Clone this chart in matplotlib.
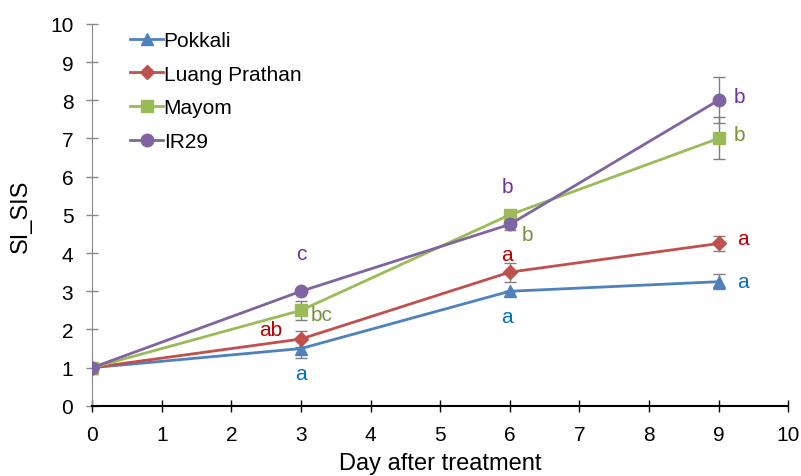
import matplotlib.pyplot as plt

plt.rcParams["font.family"] = ["Liberation Sans", "DejaVu Sans"]

days = [0, 3, 6, 9]
pokkali = [1, 1.5, 3, 3.25]
pokkali_err = [0, 0.25, 0, 0.2]
luang = [1, 1.75, 3.5, 4.25]
luang_err = [0, 0.2, 0.25, 0.2]
mayom = [1, 2.5, 5, 7]
mayom_err = [0, 0.25, 0, 0.55]
ir29 = [1, 3, 4.75, 8]
ir29_err = [0, 0, 0.15, 0.6]

# significance letters: (x, y, text, colour)
letters = [
    (3, 3.98, "c", "#7030A0"), (3.3, 2.38, "bc", "#77933C"),
    (2.56, 1.99, "ab", "#C00000"), (3, 0.84, "a", "#0070C0"),
    (5.96, 5.73, "b", "#7030A0"), (6.25, 4.48, "b", "#77933C"),
    (5.96, 3.95, "a", "#C00000"), (5.96, 2.33, "a", "#0070C0"),
    (9.3, 8.1, "b", "#7030A0"), (9.3, 7.1, "b", "#77933C"),
    (9.35, 4.37, "a", "#C00000"), (9.35, 3.25, "a", "#0070C0"),
]

series = [
    ("Pokkali", pokkali, pokkali_err, "#4F81BD", "^", 8),
    ("Luang Prathan", luang, luang_err, "#C0504D", "D", 7),
    ("Mayom", mayom, mayom_err, "#9BBB59", "s", 8),
    ("IR29", ir29, ir29_err, "#8064A2", "o", 9),
]

fig = plt.figure(figsize=(8.01, 4.77), dpi=100)
ax = fig.add_axes([0.115, 0.147, 0.869, 0.801])

for name, vals, err, col, mk, ms in series:
    ax.errorbar(days, vals, yerr=err, fmt="none", ecolor="#7F7F7F",
                elinewidth=1, capsize=4, capthick=1, zorder=2)
    ax.plot(days, vals, color=col, marker=mk, markersize=ms, linewidth=2,
            label=name, zorder=3)

for x, y, t, c in letters:
    ax.text(x, y, t, color=c, fontsize=15, ha="center", va="center")

ax.set_xlim(0, 10)
ax.set_ylim(0, 10)
ax.set_xticks(range(0, 11))
ax.set_yticks(range(0, 11))
ax.tick_params(direction="inout", length=9, labelsize=15, width=1, pad=9)
ax.tick_params(axis="y", colors="#888888", labelcolor="black")
ax.spines["top"].set_visible(False)
ax.spines["right"].set_visible(False)
ax.spines["left"].set_color("#888888")
ax.spines["bottom"].set_linewidth(1.5)
ax.set_xlabel("Day after treatment", fontsize=17, labelpad=6)
ax.set_ylabel("SI_SIS", fontsize=17, labelpad=13)

ax.legend(loc="upper left", bbox_to_anchor=(0.028, 1.03), frameon=False,
          fontsize=15, handlelength=1.55, handletextpad=0.05, labelspacing=0.7)

fig.savefig("out.png", dpi=100)
